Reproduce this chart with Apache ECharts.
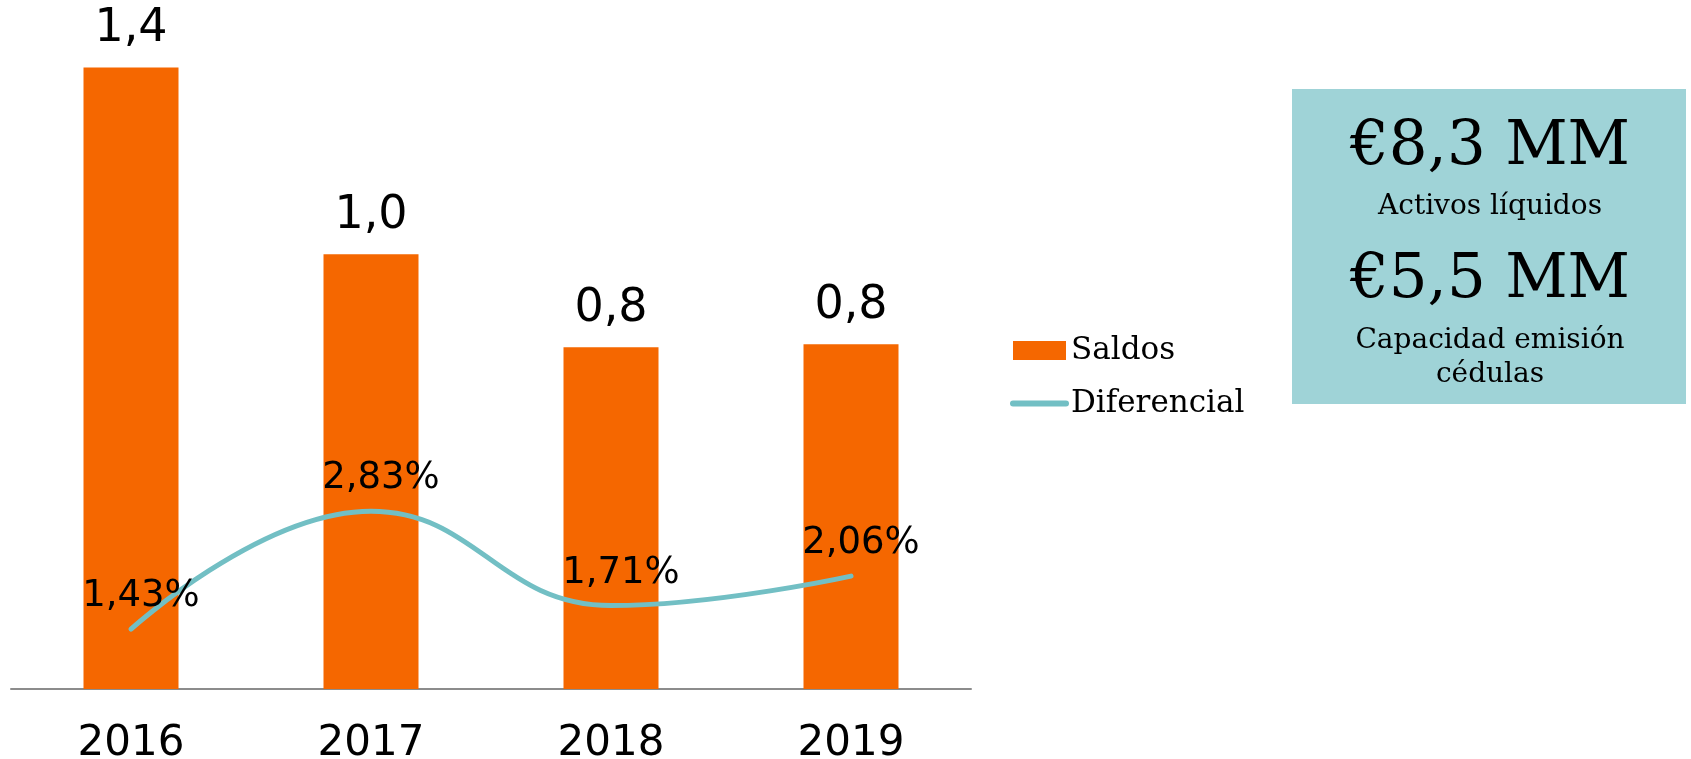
<!DOCTYPE html>
<html>
<head>
<meta charset="utf-8">
<script src="https://cdn.jsdelivr.net/npm/echarts@6/dist/echarts.min.js"></script>
<style>
  html, body { margin: 0; padding: 0; background: #fff; }
  #main { width: 1691px; height: 759px; }
</style>
</head>
<body>
<div id="main"></div>
<script>
var years = ['2016', '2017', '2018', '2019'];
var saldos = [1.43, 1.00, 0.786, 0.793];
var diferencial = [1.43, 2.83, 1.71, 2.06];
var boxTexts = ['€8,3 MM', 'Activos líquidos', '€5,5 MM', 'Capacidad emisión', 'cédulas'];

var orange = '#f56700';
var teal = '#72bfc4';

var chart = echarts.init(document.getElementById('main'));

chart.setOption({
  animation: false,
  grid: { left: 11, right: 720, top: 37, bottom: 70, outerBoundsMode: 'none', containLabel: false },
  legend: {
    orient: 'vertical',
    left: 1005,
    top: 330,
    itemWidth: 53,
    itemHeight: 19,
    itemGap: 22,
    data: [
      { name: 'Saldos', icon: 'rect' },
      { name: 'Diferencial', itemStyle: { opacity: 0 }, lineStyle: { width: 6, cap: 'round', color: teal } }
    ],
    textStyle: { fontFamily: 'DejaVu Serif', fontSize: 31, color: '#000' }
  },
  xAxis: {
    type: 'category',
    data: years,
    axisLine: { lineStyle: { color: '#8c8c8c', width: 2 } },
    axisTick: { show: false },
    axisLabel: { margin: 34, fontFamily: 'DejaVu Sans', fontSize: 42, color: '#000' }
  },
  yAxis: [
    { type: 'value', min: 0, max: 1.5, show: false, splitLine: { show: false } },
    { type: 'value', min: 0.72, max: 8.46, show: false, splitLine: { show: false } }
  ],
  series: [
    {
      name: 'Saldos',
      type: 'bar',
      data: saldos,
      barWidth: 95,
      itemStyle: { color: orange },
      label: {
        show: true,
        position: 'top',
        distance: 15,
        fontFamily: 'DejaVu Sans',
        fontSize: 46,
        color: '#000',
        formatter: function (p) { return p.value.toFixed(1).replace('.', ','); }
      }
    },
    {
      name: 'Diferencial',
      type: 'line',
      yAxisIndex: 1,
      data: diferencial,
      smooth: 0.45,
      symbol: 'circle',
      symbolSize: 0.1,
      lineStyle: { color: teal, width: 5, cap: 'round' },
      itemStyle: { color: teal },
      label: {
        show: true,
        position: 'top',
        distance: 14,
        offset: [10, 0],
        fontFamily: 'DejaVu Sans',
        fontSize: 37,
        color: '#000',
        formatter: function (p) { return p.value.toFixed(2).replace('.', ',') + '%'; }
      }
    }
  ],
  graphic: [
    { type: 'rect', shape: { x: 1292, y: 89, width: 394, height: 315 }, style: { fill: '#9fd3d7' } },
    { type: 'text', x: 1490, y: 148, style: { text: boxTexts[0], fontFamily: 'DejaVu Serif', fontSize: 61, fill: '#000', align: 'center', verticalAlign: 'middle' } },
    { type: 'text', x: 1490, y: 207, style: { text: boxTexts[1], fontFamily: 'DejaVu Serif', fontSize: 28, fill: '#000', align: 'center', verticalAlign: 'middle' } },
    { type: 'text', x: 1490, y: 281, style: { text: boxTexts[2], fontFamily: 'DejaVu Serif', fontSize: 61, fill: '#000', align: 'center', verticalAlign: 'middle' } },
    { type: 'text', x: 1490, y: 341, style: { text: boxTexts[3], fontFamily: 'DejaVu Serif', fontSize: 28, fill: '#000', align: 'center', verticalAlign: 'middle' } },
    { type: 'text', x: 1490, y: 375, style: { text: boxTexts[4], fontFamily: 'DejaVu Serif', fontSize: 28, fill: '#000', align: 'center', verticalAlign: 'middle' } }
  ]
});
</script>
</body>
</html>
